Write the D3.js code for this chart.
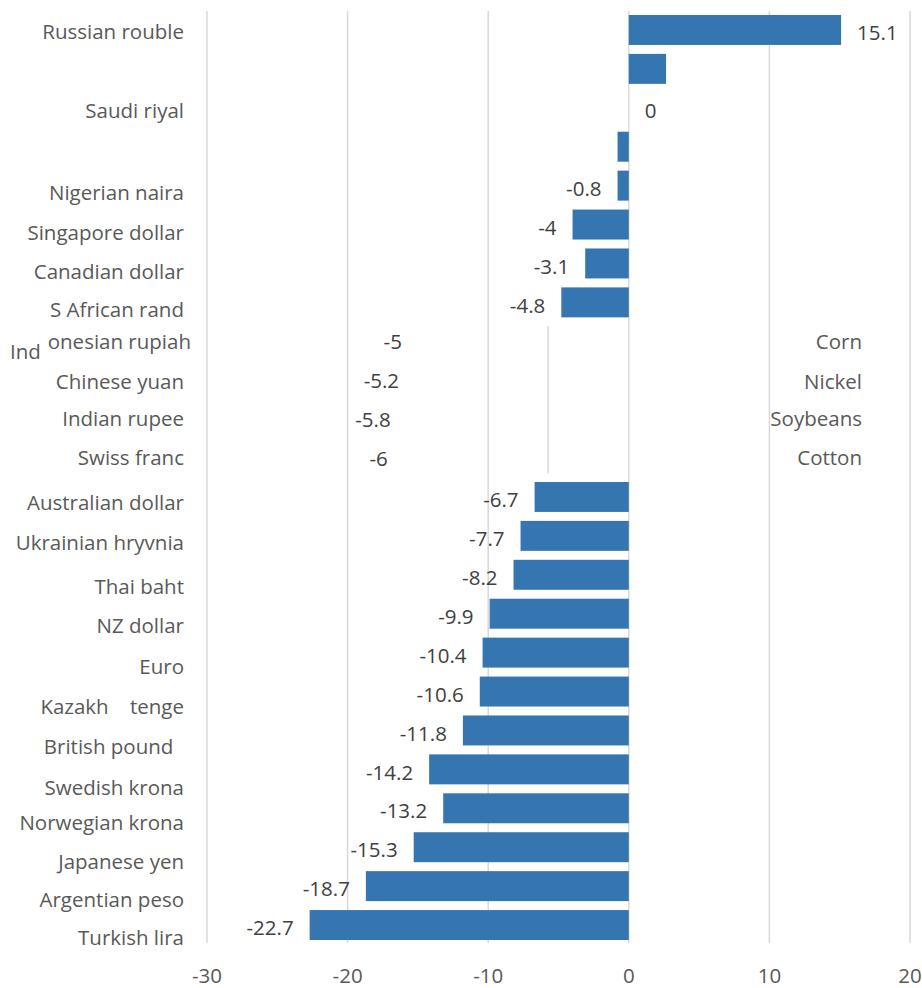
<!DOCTYPE html>
<html><head><meta charset="utf-8">
<script src="https://cdn.jsdelivr.net/npm/d3@7"></script>
<style>
body{margin:0;background:#fff}
svg{display:block}
text{font-family:"Open Sans",sans-serif;white-space:pre}
</style>
</head><body>
<svg id="chart" width="922" height="988"></svg>
<script>
// ---- data ----
const categories = ["Russian rouble","","Saudi riyal","","Nigerian naira","Singapore dollar","Canadian dollar","S African rand","Indonesian rupiah","Chinese yuan","Indian rupee","Swiss franc","Australian dollar","Ukrainian hryvnia","Thai baht","NZ dollar","Euro","Kazakh    tenge","British pound  ","Swedish krona","Norwegian krona","Japanese yen","Argentian peso","Turkish lira"];
const barValues = [15.1, 2.65, 0, -0.8, -0.8, -4, -3.1, -4.8, null, null, null, null, -6.7, -7.7, -8.2, -9.9, -10.4, -10.6, -11.8, -14.2, -13.2, -15.3, -18.7, -22.7];
const labelValues = [15.1, null, 0, null, -0.8, -4, -3.1, -4.8, -5, -5.2, -5.8, -6, -6.7, -7.7, -8.2, -9.9, -10.4, -10.6, -11.8, -14.2, -13.2, -15.3, -18.7, -22.7];
const commodities = ["Corn","Nickel","Soybeans","Cotton"];
const commodityRows = [8, 9, 10, 11];
const xTicks = [-30, -20, -10, 0, 10, 20];

// ---- layout ----
const FS = 20.5;
const svg = d3.select("#chart");
const x = d3.scaleLinear().domain([-30, 20]).range([207, 910]);
const idx = d3.range(categories.length);
const y = d3.scaleBand().domain(idx).range([10.5, 944.5]).paddingInner(0.23).paddingOuter(0.115);
const yLab = d3.scalePoint().domain(idx).range([32, 938]);
const labelNudge = [0,0,0,0,3,4,3,2,-5,-5,-7,-7,-2,-1,3,3,5,5,6,7,3,3,1,0];
const gridTop = 11, gridBottom = 943;

// gridlines
svg.append("g").selectAll("line").data(xTicks).join("line")
  .attr("x1", d => x(d)).attr("x2", d => x(d))
  .attr("y1", gridTop).attr("y2", gridBottom)
  .attr("stroke", "#d9d9d9").attr("stroke-width", 1.5);
// stray short gridline
svg.append("line")
  .attr("x1", x(-5.74)).attr("x2", x(-5.74))
  .attr("y1", 326).attr("y2", 473)
  .attr("stroke", "#d9d9d9").attr("stroke-width", 1.5);

// bars
svg.append("g").selectAll("rect").data(idx.filter(i => barValues[i] !== null)).join("rect")
  .attr("x", i => x(Math.min(0, barValues[i])))
  .attr("width", i => Math.abs(x(barValues[i]) - x(0)))
  .attr("y", i => y(i)).attr("height", y.bandwidth())
  .attr("fill", "#3576b1");

// value labels
svg.append("g").selectAll("text").data(idx.filter(i => labelValues[i] !== null)).join("text")
  .attr("x", i => {
    const v = labelValues[i];
    if (barValues[i] === null) return x(v - 10) - 16;
    return v >= 0 ? x(v) + 16 : x(v) - 16;
  })
  .attr("y", i => y(i) + y.bandwidth() / 2 + (barValues[i] === null ? 0.5 : 3))
  .attr("dy", "0.35em")
  .attr("text-anchor", i => labelValues[i] >= 0 ? "start" : "end")
  .attr("font-size", FS).attr("fill", "#404040")
  .text(i => String(labelValues[i]));

// category labels
const catG = svg.append("g");
idx.forEach(i => {
  const name = categories[i];
  if (!name) return;
  const cy = yLab(i) + labelNudge[i];
  if (name === "Indonesian rupiah") {
    catG.append("text").attr("x", 191).attr("y", cy).attr("dy", "0.35em")
      .attr("text-anchor", "end").attr("font-size", FS).attr("fill", "#595959")
      .text(name.slice(3));
    catG.append("text").attr("x", 10).attr("y", cy + 10).attr("dy", "0.35em")
      .attr("text-anchor", "start").attr("font-size", FS).attr("fill", "#595959")
      .text(name.slice(0, 3));
  } else {
    catG.append("text").attr("x", 184).attr("y", cy).attr("dy", "0.35em")
      .attr("text-anchor", "end").attr("font-size", FS).attr("fill", "#595959")
      .text(name);
  }
});

// commodity labels
svg.append("g").selectAll("text").data(commodities).join("text")
  .attr("x", 862).attr("y", (d, k) => yLab(commodityRows[k]) + labelNudge[commodityRows[k]])
  .attr("dy", "0.35em").attr("text-anchor", "end")
  .attr("font-size", FS).attr("fill", "#595959")
  .text(d => d);

// x axis tick labels
svg.append("g").selectAll("text").data(xTicks).join("text")
  .attr("x", d => x(d)).attr("y", 976).attr("dy", "0.35em")
  .attr("text-anchor", "middle").attr("font-size", FS).attr("fill", "#595959")
  .text(d => d);
</script>
</body></html>
